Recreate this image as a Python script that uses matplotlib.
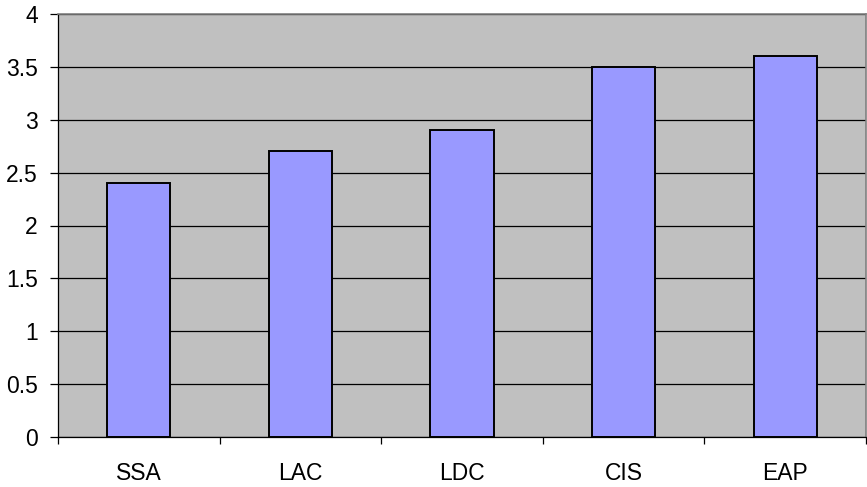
import matplotlib
matplotlib.use("Agg")
import matplotlib.pyplot as plt
import numpy as np

# regions and values
regions = ["SSA", "LAC", "LDC", "CIS", "EAP"]
values = [2.4, 2.7, 2.9, 3.5, 3.6]
y_ticks = [0, 0.5, 1, 1.5, 2, 2.5, 3, 3.5, 4]
y_tick_labels = ["0", "0.5", "1", "1.5", "2", "2.5", "3", "3.5", "4"]

plt.rcParams['font.family'] = ['Liberation Sans', 'DejaVu Sans']

fig = plt.figure(figsize=(8.67, 4.87), dpi=100)
ax = fig.add_axes([58 / 867, 50 / 487, 808 / 867, 423 / 487])
ax.set_facecolor("#C0C0C0")

x = np.arange(len(regions))
ax.bar(x, values, width=0.39, color="#9999FF", edgecolor="black", linewidth=1.4, zorder=3)

ax.set_xlim(-0.5, len(regions) - 0.5)
ax.set_ylim(0, 4)
ax.set_yticks(y_ticks)
ax.set_yticklabels(y_tick_labels)
ax.yaxis.grid(True, color="black", linewidth=0.9, zorder=1)
ax.set_axisbelow(True)

# category labels centred, tick marks between categories
ax.set_xticks(x)
ax.set_xticklabels(regions)
ax.tick_params(axis="x", which="major", length=0, pad=18, labelsize=16.5)
ax.set_xticks(np.arange(-0.5, len(regions)), minor=True)
ax.tick_params(axis="x", which="minor", length=5, width=0.9, color="black")
ax.tick_params(axis="y", length=5.5, width=0.9, pad=9, labelsize=16.5)

for side in ["left", "bottom"]:
    ax.spines[side].set_color("black")
    ax.spines[side].set_linewidth(0.9)
for side in ["top", "right"]:
    ax.spines[side].set_color("#808080")
    ax.spines[side].set_linewidth(1.2)

fig.savefig("out.png", dpi=100)
